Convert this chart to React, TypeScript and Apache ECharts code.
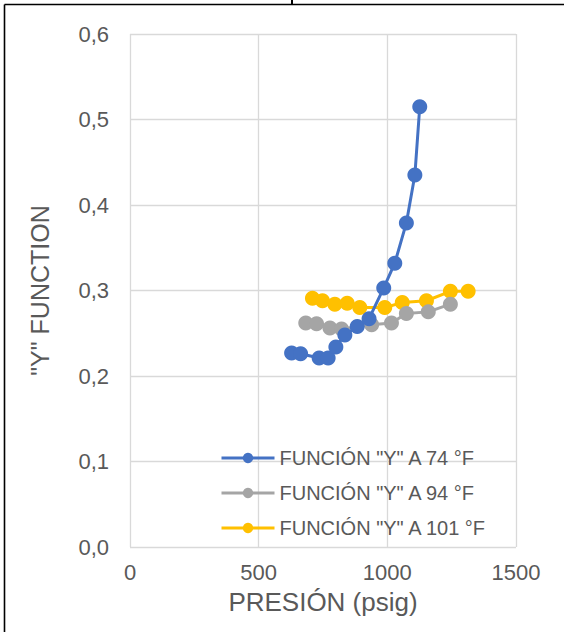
import React, { useEffect, useRef } from "react";
import * as echarts from "echarts";

const seriesNames = ['FUNCIÓN "Y" A 74 °F', 'FUNCIÓN "Y" A 94 °F', 'FUNCIÓN "Y" A 101 °F'];
const colors = ["#4472C4", "#A5A5A5", "#FFC000"];

const p74 = [628, 663, 735, 770, 800, 835, 883, 929, 986, 1029, 1074, 1107, 1126];
const y74 = [0.227, 0.226, 0.221, 0.221, 0.234, 0.248, 0.258, 0.267, 0.303, 0.332, 0.379, 0.435, 0.515];

const p94 = [683, 725, 777, 822, 939, 1016, 1074, 1159, 1245];
const y94 = [0.262, 0.261, 0.256, 0.255, 0.26, 0.262, 0.273, 0.275, 0.284];

const p101 = [709, 748, 796, 844, 893, 990, 1058, 1152, 1245, 1314];
const y101 = [0.291, 0.288, 0.284, 0.285, 0.28, 0.28, 0.286, 0.288, 0.299, 0.299];

const zip = (xs: number[], ys: number[]) => xs.map((x, i) => [x, ys[i]]);

export default function App() {
  const ref = useRef<HTMLDivElement>(null);
  useEffect(() => {
    if (!ref.current) return;
    const chart = echarts.init(ref.current, null, { renderer: "svg" });
    const font = "'Liberation Sans', Arial, sans-serif";
    const datasets = [zip(p74, y74), zip(p94, y94), zip(p101, y101)];
    chart.setOption({
      animation: false,
      backgroundColor: "#ffffff",
      textStyle: { fontFamily: font },
      grid: { left: 130, top: 34, right: 48, bottom: 85, containLabel: false },
      legend: {
        orient: "vertical",
        left: 220,
        top: 448,
        padding: 0,
        itemWidth: 53,
        itemHeight: 13,
        itemGap: 15,
        lineStyle: { width: 3 },
        data: seriesNames.map((n) => ({ name: n })),
        textStyle: { color: "#595959", fontSize: 20, fontFamily: font },
      },
      xAxis: {
        type: "value",
        min: 0,
        max: 1500,
        interval: 500,
        name: "PRESIÓN (psig)",
        nameLocation: "middle",
        nameGap: 42,
        nameTextStyle: { color: "#595959", fontSize: 26, fontFamily: font },
        axisLine: { show: false },
        axisTick: { show: false },
        axisLabel: {
          color: "#595959",
          fontSize: 22,
          margin: 14,
          fontFamily: font,
          formatter: (v: number) => String(v),
        },
        splitLine: { show: true, lineStyle: { color: "#D9D9D9", width: 1.3 } },
      },
      yAxis: {
        type: "value",
        min: 0,
        max: 0.6,
        interval: 0.1,
        name: '"Y" FUNCTION',
        nameLocation: "middle",
        nameGap: 78,
        nameTextStyle: { color: "#595959", fontSize: 25, fontFamily: font },
        axisLine: { show: false },
        axisTick: { show: false },
        axisLabel: {
          color: "#595959",
          fontSize: 22,
          margin: 21,
          fontFamily: font,
          formatter: (v: number) => v.toFixed(1).replace(".", ","),
        },
        splitLine: { show: true, lineStyle: { color: "#D9D9D9", width: 1.3 } },
      },
      series: datasets.map((d, i) => ({
        name: seriesNames[i],
        type: "line",
        data: d,
        symbol: "circle",
        symbolSize: 15,
        showSymbol: true,
        color: colors[i],
        itemStyle: { color: colors[i] },
        lineStyle: { color: colors[i], width: 3 },
        z: 3 - i,
      })),
      graphic: [
        {
          type: "line",
          shape: { x1: 4.5, y1: 4.5, x2: 564, y2: 4.5 },
          style: { stroke: "#000", lineWidth: 1.6 },
          silent: true,
        },
        {
          type: "line",
          shape: { x1: 4.5, y1: 4.5, x2: 4.5, y2: 632 },
          style: { stroke: "#000", lineWidth: 1.6 },
          silent: true,
        },
        {
          type: "rect",
          shape: { x: 291, y: 0, width: 2, height: 4 },
          style: { fill: "#000" },
          silent: true,
        },
      ],
    });
    return () => chart.dispose();
  }, []);
  return (
    <div
      ref={ref}
      style={{ position: "fixed", left: 0, top: 0, width: 564, height: 632 }}
    />
  );
}
